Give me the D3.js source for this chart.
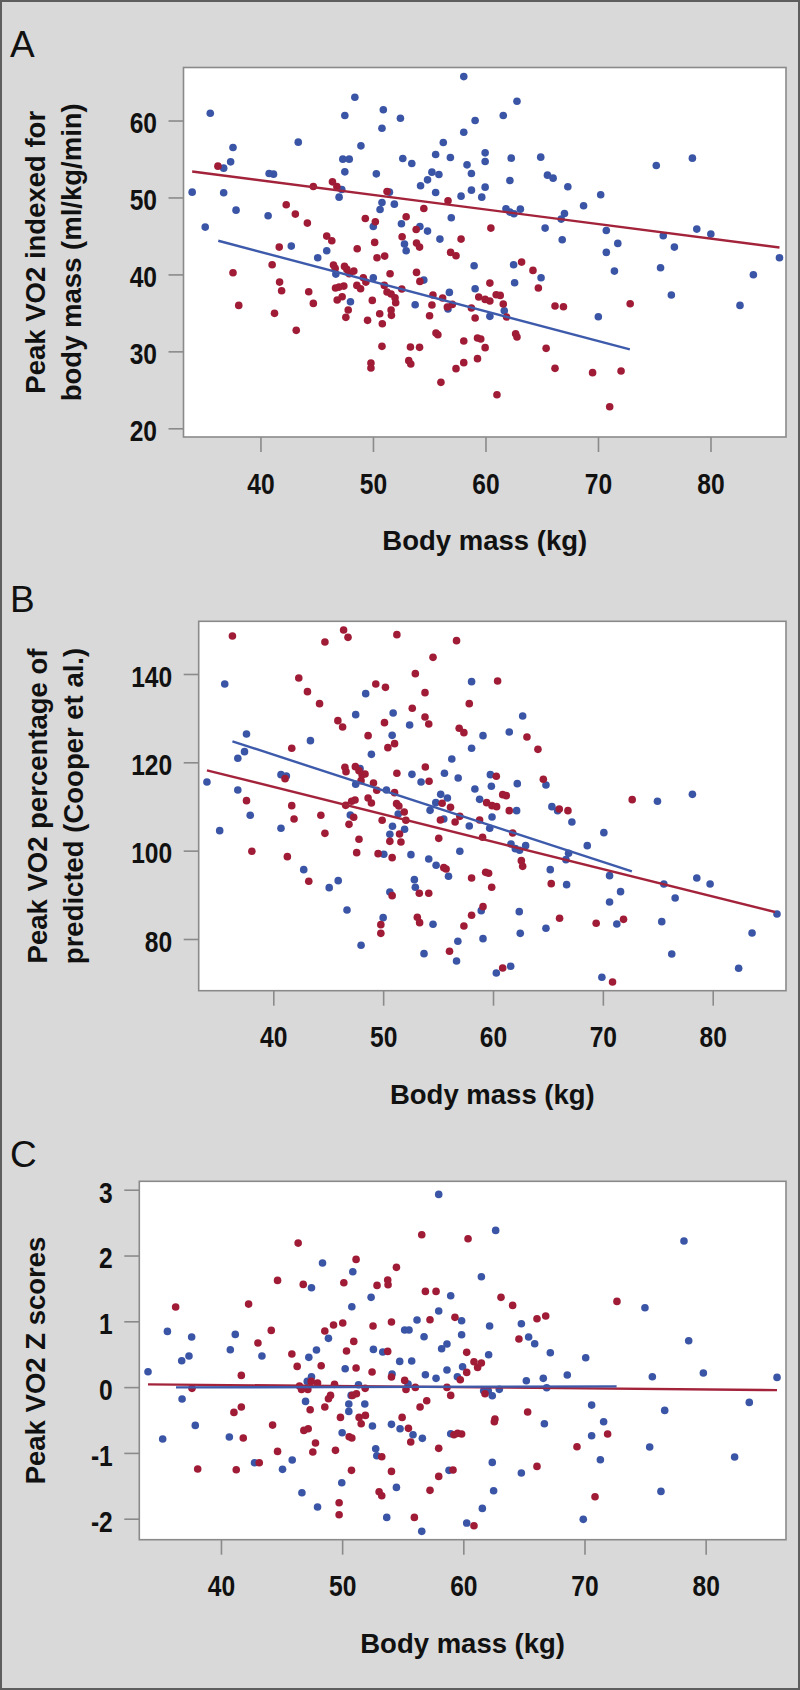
<!DOCTYPE html>
<html><head><meta charset="utf-8">
<script src="https://cdn.jsdelivr.net/npm/d3@7"></script>
<style>body{margin:0;background:#d9d9d9;} svg{display:block;}</style>
</head><body>
<svg id="fig" width="800" height="1690"></svg>
<script>
// ---------- DATA ----------
const xTicks = [40, 50, 60, 70, 80];
const yTicksA = [20, 30, 40, 50, 60];
const yTicksB = [80, 100, 120, 140];
const yTicksC = [-2, -1, 0, 1, 2, 3];
const panelLetters = ["A", "B", "C"];
const xTitle = "Body mass (kg)";
const yTitleA = ["Peak VO2 indexed for", "body mass (ml/kg/min)"];
const yTitleB = ["Peak VO2 percentage of", "predicted (Cooper et al.)"];
const yTitleC = ["Peak VO2 Z scores"];

// Panel A: [body mass, peak VO2 indexed]
const blueA = [[33.93,50.69],[35.54,60.95],[35.09,46.15],[36.73,53.81],[37.35,54.63],[37.56,56.49],[36.73,50.61],[37.83,48.35],[40.77,53.12],[41.16,53.03],[40.68,47.62],[43.36,57.19],[42.74,43.68],[45.09,42.16],[45.89,43.07],[47.5,60.65],[48.39,63.03],[47.32,54.98],[47.89,54.98],[47.5,53.33],[47.23,51.04],[46.99,50.04],[48.93,56.71],[50.92,61.39],[50.8,59.0],[50.3,53.07],[51.46,50.69],[50.8,49.35],[50.63,48.44],[51.9,49.13],[50.03,46.23],[46.7,40.04],[48.0,36.45],[50.03,39.57],[52.44,60.3],[52.65,55.06],[53.45,54.42],[52.53,46.58],[52.8,43.94],[52.95,43.07],[54.17,46.23],[54.85,45.63],[54.23,51.52],[54.85,52.29],[55.24,53.29],[55.86,52.99],[55.57,55.58],[56.25,57.14],[56.88,55.19],[55.57,50.65],[55.95,44.59],[56.96,47.36],[54.52,39.26],[53.75,36.06],[56.79,37.66],[56.67,35.5],[58.07,65.71],[58.07,58.48],[59.08,60.0],[58.36,54.24],[58.75,53.12],[58.75,50.95],[57.83,50.17],[59.67,50.04],[58.99,41.13],[59.08,38.14],[62.8,62.51],[61.58,60.65],[59.97,55.8],[59.97,54.68],[59.97,51.34],[62.29,55.11],[64.91,55.24],[65.51,52.9],[66.01,52.51],[67.32,51.39],[62.17,52.21],[61.82,48.53],[62.17,48.1],[62.53,47.88],[63.1,48.48],[65.3,46.02],[67.02,47.92],[66.73,47.19],[66.82,44.5],[68.72,48.92],[70.24,50.35],[70.74,45.71],[70.74,42.86],[71.76,44.03],[71.46,40.43],[70.03,34.5],[75.18,54.16],[78.39,55.11],[75.8,45.02],[76.79,43.55],[78.78,45.89],[80.03,45.24],[75.56,40.87],[76.52,37.32],[82.62,35.97],[83.81,39.96],[86.13,42.16],[62.5,41.26],[62.59,38.92],[64.94,39.57],[61.67,35.28],[60.39,34.55]];
const redA = [[36.22,54.07],[44.7,51.43],[46.4,52.03],[46.79,51.43],[42.29,49.05],[43.1,47.84],[44.17,46.67],[41.67,43.55],[41.04,41.26],[37.56,40.22],[38.07,35.97],[41.7,39.0],[41.88,37.88],[41.25,34.94],[43.18,32.73],[44.29,37.75],[44.7,36.23],[45.89,44.98],[46.34,44.37],[46.49,41.21],[46.64,40.78],[46.67,38.23],[46.99,38.35],[47.41,38.48],[46.82,36.67],[47.26,37.1],[47.8,35.37],[47.59,34.42],[47.47,41.04],[47.68,40.65],[47.89,40.09],[48.3,40.43],[48.6,43.33],[48.57,38.57],[48.9,38.14],[49.14,39.57],[49.37,39.0],[49.32,47.27],[50.21,46.84],[50.15,44.16],[50.36,42.16],[51.04,42.38],[51.25,50.78],[49.94,36.62],[49.52,34.03],[50.6,34.89],[50.83,33.59],[51.61,35.37],[51.64,34.68],[51.52,40.09],[51.01,38.57],[51.25,37.71],[51.61,37.45],[51.96,36.97],[52.02,36.32],[52.56,38.1],[52.95,47.49],[52.59,44.89],[53.84,45.84],[53.87,44.07],[54.14,43.55],[54.52,48.57],[53.87,40.26],[54.17,39.09],[55.33,37.32],[55.24,36.02],[55.03,34.63],[56.19,36.93],[56.61,35.76],[57.05,36.1],[55.6,32.38],[55.77,32.16],[50.8,30.65],[53.33,30.56],[54.14,30.52],[49.82,28.48],[49.82,27.84],[53.18,28.79],[53.36,28.35],[56.04,25.97],[57.38,27.75],[58.07,28.53],[59.29,29.05],[58.07,31.34],[59.29,31.73],[59.58,31.6],[58.75,35.63],[59.08,34.33],[59.4,37.06],[56.67,49.57],[57.83,44.59],[56.9,42.86],[57.38,42.42],[60.48,46.02],[63.21,41.6],[64.22,40.52],[64.7,38.23],[60.39,38.87],[59.97,36.75],[60.39,36.54],[60.95,37.36],[61.31,37.27],[61.58,36.15],[61.88,34.46],[62.68,32.29],[62.8,31.86],[59.97,30.48],[66.18,35.89],[66.93,35.8],[65.39,30.39],[66.18,27.79],[69.52,27.23],[72.05,27.45],[71.04,22.81],[61.02,24.37],[72.86,36.19]];
const fitRedA = [[33.93,53.38],[86.13,43.5]];
const fitBlueA = [[36.25,44.37],[72.83,30.26]];

// Panel B: [body mass, peak VO2 % predicted]
const blueB = [[33.96,115.55],[35.58,137.74],[35.12,104.53],[37.56,126.42],[37.38,122.42],[36.77,120.91],[36.77,113.74],[37.9,108.0],[40.7,117.21],[41.19,116.91],[40.7,105.06],[43.38,124.91],[42.77,95.7],[45.09,91.62],[45.91,93.21],[46.71,86.57],[47.5,130.79],[48.41,135.55],[48.93,121.81],[47.9,118.57],[47.5,115.02],[47.01,108.08],[47.99,78.57],[50.91,131.17],[50.82,126.11],[50.3,113.74],[51.37,108.3],[50.85,105.51],[50.61,103.7],[51.95,104.83],[50.06,99.17],[50.61,90.64],[50.0,84.83],[52.41,128.45],[52.62,117.28],[53.45,115.55],[52.53,99.09],[52.84,93.43],[52.93,91.7],[54.54,83.32],[53.72,76.68],[54.15,98.11],[54.82,96.68],[54.27,109.13],[54.79,110.87],[55.24,112.75],[55.85,111.92],[55.58,117.51],[56.25,120.75],[56.83,116.45],[55.52,107.17],[55.95,94.19],[56.98,99.85],[56.8,79.47],[56.68,75.02],[58.05,138.26],[58.05,123.17],[59.09,126.04],[58.35,113.96],[58.78,111.62],[57.84,105.58],[59.7,105.06],[58.93,86.42],[59.09,80.08],[62.7,130.49],[61.48,126.87],[59.76,117.21],[59.85,114.57],[62.21,115.17],[64.82,114.87],[62.15,109.06],[59.91,107.62],[65.36,109.96],[65.88,109.06],[67.18,106.49],[61.64,101.51],[62.03,100.45],[62.42,100.08],[62.97,101.13],[66.88,99.4],[66.64,97.96],[68.58,101.13],[70.09,104.08],[65.21,95.7],[66.7,92.3],[70.61,94.34],[71.61,90.72],[70.61,88.38],[71.27,83.4],[62.39,86.19],[62.48,81.28],[64.82,82.42],[61.61,73.81],[60.3,72.3],[69.91,71.32],[74.97,111.17],[78.15,112.75],[75.55,92.45],[78.55,93.81],[79.76,92.45],[76.58,89.28],[75.36,83.92],[76.27,76.6],[82.36,73.36],[83.58,81.36],[85.85,85.66]];
const redB = [[36.28,148.6],[42.32,139.09],[43.11,136.0],[44.21,133.28],[44.7,147.25],[46.4,149.96],[46.8,148.3],[45.88,129.43],[46.31,128.0],[41.68,123.17],[37.56,111.32],[41.07,116.3],[41.68,110.19],[41.89,107.17],[38.05,99.85],[41.28,98.64],[43.23,93.06],[44.33,108.0],[44.7,103.92],[46.52,118.87],[46.62,117.89],[47.47,119.02],[47.8,118.11],[48.08,117.21],[48.35,117.36],[47.99,115.85],[46.59,110.26],[47.13,111.17],[47.44,111.47],[47.32,107.55],[46.89,105.96],[47.8,102.57],[47.59,99.55],[48.63,126.04],[49.33,137.74],[50.21,136.98],[51.25,148.91],[50.12,128.98],[50.43,123.32],[51.04,124.23],[49.12,115.32],[49.42,113.66],[48.63,111.92],[48.93,110.79],[51.04,113.13],[51.25,117.51],[51.22,110.64],[51.43,110.11],[51.92,108.75],[52.07,106.87],[49.91,106.87],[51.49,103.77],[51.62,101.96],[50.61,102.11],[49.54,99.32],[50.82,98.42],[50.82,89.81],[49.79,83.25],[49.79,81.28],[52.93,140.08],[54.54,143.77],[53.81,135.77],[52.65,132.23],[53.81,130.26],[54.15,128.68],[53.84,118.94],[54.18,115.7],[56.68,147.55],[57.84,133.28],[56.92,127.7],[57.35,126.72],[55.37,110.72],[56.13,109.81],[56.98,107.77],[56.55,106.49],[55.21,106.94],[55.06,102.79],[58.78,106.94],[59.05,103.02],[59.42,110.87],[55.52,96.15],[55.73,95.85],[53.29,90.34],[54.15,90.34],[53.11,84.91],[53.32,83.7],[57.35,82.94],[58.05,85.36],[59.09,87.32],[58.05,93.81],[59.33,95.09],[59.6,94.87],[59.88,91.7],[56.04,77.21],[60.42,138.42],[63.09,125.74],[64.09,122.94],[60.3,116.83],[64.58,116.15],[60.88,112.68],[61.21,112.45],[59.91,110.19],[60.33,109.96],[61.48,109.06],[66.03,109.43],[66.82,109.06],[72.67,111.55],[61.79,104.0],[62.58,97.74],[62.7,96.45],[65.3,92.53],[66.06,84.68],[69.39,83.55],[71.88,84.45],[60.88,73.43],[70.88,70.26]];
const fitBlueB = [[36.28,124.75],[72.64,95.32]];
const fitRedB = [[33.96,118.19],[85.67,86.11]];

// Panel C: [body mass, peak VO2 Z score]
const blueC = [[33.98,0.234],[35.58,0.847],[35.19,-0.789],[36.76,0.401],[37.36,0.472],[37.58,0.761],[36.79,-0.181],[37.88,-0.582],[40.77,0.568],[41.18,0.801],[40.69,-0.759],[43.38,0.472],[42.77,-1.149],[45.08,-1.25],[45.88,-1.108],[46.68,-1.605],[47.47,1.511],[48.38,1.886],[48.87,0.741],[47.88,0.563],[47.25,0.452],[47.47,0.158],[47.12,0.087],[46.98,-0.217],[47.97,-1.823],[50.88,1.754],[50.8,1.222],[50.25,0.28],[51.35,0.036],[50.74,-0.126],[50.55,-0.257],[50.55,-0.369],[51.87,-0.257],[50.0,-0.693],[49.97,-1.453],[52.39,1.364],[52.58,0.573],[53.35,0.533],[52.5,-0.592],[52.77,-0.936],[52.86,-1.043],[53.68,-1.98],[54.75,0.391],[54.12,0.199],[54.07,-0.566],[54.78,-0.632],[54.48,-1.524],[55.16,0.867],[55.52,0.867],[56.18,1.019],[55.74,0.396],[55.44,0.047],[55.85,-0.723],[56.62,-0.779],[56.57,-2.192],[57.97,2.929],[56.76,0.766],[56.87,0.188],[57.75,0.133],[57.97,1.156],[58.96,1.389],[58.21,0.584],[58.65,0.655],[58.65,0.259],[59.51,0.158],[58.96,-0.708],[58.82,-1.265],[62.67,2.382],[61.49,1.678],[59.86,1.009],[59.86,0.796],[62.17,0.928],[62.09,0.492],[59.94,0.31],[64.79,0.963],[65.39,0.761],[65.89,0.66],[67.18,0.523],[65.2,0.097],[66.6,0.133],[66.88,-0.009],[68.58,0.183],[70.1,0.447],[61.68,-0.055],[62.06,-0.055],[62.39,-0.131],[62.97,-0.034],[66.69,-0.556],[70.59,-0.273],[71.58,-0.526],[70.59,-0.739],[71.31,-1.103],[62.39,-1.144],[64.79,-1.306],[62.5,-1.574],[61.57,-1.843],[60.28,-2.066],[69.9,-2.01],[74.99,1.207],[78.21,2.22],[78.6,0.705],[75.6,0.158],[79.81,0.214],[85.89,0.148],[76.62,-0.354],[75.38,-0.911],[83.6,-0.232],[82.39,-1.063],[76.31,-1.585]];
const redC = [[36.26,1.217],[37.61,-0.019],[38.08,-1.245],[42.28,1.262],[41.68,0.178],[41.68,-0.303],[41.07,-0.384],[41.84,-0.774],[41.26,-1.255],[43.16,-1.149],[44.67,1.622],[43.05,0.67],[44.15,0.862],[44.26,-0.577],[44.67,-0.977],[46.37,2.189],[46.79,1.561],[45.85,0.503],[46.29,0.315],[46.48,0.016],[46.65,-0.035],[47.17,-0.035],[47.45,0.087],[47.97,0.062],[47.36,-0.343],[47.2,-0.632],[46.84,-0.658],[47.8,-0.85],[47.58,-0.987],[48.57,0.852],[48.27,0.325],[49.29,0.943],[50.05,0.974],[50.36,0.548],[50.96,0.695],[51.15,0.29],[51.15,1.941],[50.14,1.587],[49.37,0.042],[49.04,-0.126],[48.87,-0.176],[48.57,-0.303],[49.86,-0.46],[49.45,-0.961],[50.58,-0.754],[50.8,-0.774],[50.77,-1.265],[49.75,-1.757],[49.75,-1.939],[50.85,-0.126],[51.18,-0.1],[51.9,-0.019],[51.4,-0.46],[51.92,-0.43],[51.57,-0.556],[52.47,0.229],[52.55,0.928],[52.88,1.546],[53.76,1.627],[53.79,1.556],[54.48,1.82],[54.07,0.989],[53.76,0.543],[54.07,0.153],[55.16,0.102],[55.27,-0.035],[56.04,-0.004],[54.95,-0.46],[55.47,-0.627],[55.66,-0.835],[53.27,-1.058],[53.05,-1.59],[53.27,-1.65],[54.07,-1.281],[55.96,-1.98],[56.57,2.316],[56.87,1.455],[57.75,1.455],[57.25,1.024],[56.98,-0.207],[56.43,-0.303],[57.97,-0.931],[57.97,-1.357],[57.25,-1.569],[59.31,1.06],[58.65,-0.004],[58.96,-0.126],[59.75,0.112],[59.23,-0.723],[59.53,-0.703],[59.86,-0.713],[59.15,-1.26],[60.39,2.255],[63.11,1.364],[64.07,1.242],[66.08,1.039],[66.8,1.08],[64.59,0.731],[72.68,1.303],[60.28,0.528],[60.88,0.386],[61.49,0.366],[61.18,0.3],[60.28,0.224],[61.79,-0.1],[65.31,-0.379],[62.61,-0.485],[62.56,-0.526],[71.91,-0.713],[69.38,-0.906],[66.08,-1.205],[70.87,-1.666],[60.88,-2.106]];
const fitRedC = [[33.98,0.042],[85.89,-0.045]];
const fitBlueC = [[36.29,-0.004],[72.65,0.011]];

// ---------- STYLE / LAYOUT ----------
const BLUE = "#3b55a6", RED = "#a01c36";
const BLUE_LINE = "#3d5aab", RED_LINE = "#a3233b";
const FRAME = "#8a8a8a";
const BOLD_FONT = "'Liberation Sans', Arial, Helvetica, sans-serif";
const NARROW_FONT = "'Liberation Sans Narrow', 'Arial Narrow', 'Liberation Sans', Arial, sans-serif";

const panels = [
  {letter: panelLetters[0], letterY: 57, box: {l:183.5, r:786, t:67.5, b:437},
   xDom: [33.16, 86.71], yDom: [18.87, 66.89], yTicks: yTicksA,
   title: yTitleA, titleX: [45, 81], blue: blueA, red: redA,
   fits: [{d: fitRedA, c: RED_LINE}, {d: fitBlueA, c: BLUE_LINE}]},
  {letter: panelLetters[1], letterY: 611.5, box: {l:198.7, r:786, t:621.3, b:990.7},
   xDom: [33.21, 86.67], yDom: [68.29, 151.93], yTicks: yTicksB,
   title: yTitleB, titleX: [47, 83], blue: blueB, red: redB,
   fits: [{d: fitRedB, c: RED_LINE}, {d: fitBlueB, c: BLUE_LINE}]},
  {letter: panelLetters[2], letterY: 1166.5, box: {l:139.3, r:786, t:1181.3, b:1539.7},
   xDom: [33.26, 86.63], yDom: [-2.319, 3.128], yTicks: yTicksC,
   title: yTitleC, titleX: [45], blue: blueC, red: redC,
   fits: [{d: fitRedC, c: RED_LINE}, {d: fitBlueC, c: BLUE_LINE}]}
];

const svg = d3.select("#fig");
svg.append("rect").attr("x",0).attr("y",0).attr("width",800).attr("height",1690).attr("fill","#d9d9d9");
svg.append("rect").attr("x",1).attr("y",1).attr("width",798).attr("height",1688)
   .attr("fill","none").attr("stroke","#5e5e5e").attr("stroke-width",2);

// narrow-font check: compress if the narrow face is not available
function narrowFactor() {
  const t = svg.append("text").attr("font-family", NARROW_FONT).attr("font-weight","bold")
    .attr("font-size", 30).text("00");
  const w = t.node().getComputedTextLength();
  t.remove();
  const target = 0.456 * 2 * 30;
  return w > target * 1.06 ? target / w : 1;
}
const k = narrowFactor();
const fmt = d => String(d);   // plain hyphen for negatives, as in the original

panels.forEach(p => {
  const g = svg.append("g");
  const x = d3.scaleLinear().domain(p.xDom).range([p.box.l, p.box.r]);
  const y = d3.scaleLinear().domain(p.yDom).range([p.box.b, p.box.t]);

  g.append("rect").attr("x", p.box.l).attr("y", p.box.t)
   .attr("width", p.box.r - p.box.l).attr("height", p.box.b - p.box.t)
   .attr("fill", "#fff").attr("stroke", FRAME).attr("stroke-width", 1.6);

  // axes
  const ax = g.append("g").attr("transform", `translate(0,${p.box.b})`)
    .call(d3.axisBottom(x).tickValues(xTicks).tickSize(15).tickFormat(fmt));
  const ay = g.append("g").attr("transform", `translate(${p.box.l},0)`)
    .call(d3.axisLeft(y).tickValues(p.yTicks).tickSize(15).tickFormat(fmt));
  [ax, ay].forEach(a => {
    a.select(".domain").remove();
    a.selectAll(".tick line").attr("stroke", FRAME).attr("stroke-width", 1.6);
    a.selectAll(".tick text").attr("fill", "#111").attr("font-family", NARROW_FONT)
      .attr("font-weight", "bold").attr("font-size", 30);
  });
  ax.selectAll(".tick text").attr("y", 0).attr("dy", 0)
    .attr("transform", `translate(0,56.5) scale(${k},1)`);
  ay.selectAll(".tick text").attr("x", 0).attr("dy", 0).attr("text-anchor", "end")
    .attr("transform", `translate(-26.5,12.3) scale(${k},1)`);

  // points
  g.append("g").selectAll("circle").data(p.blue).join("circle")
    .attr("cx", d => x(d[0])).attr("cy", d => y(d[1])).attr("r", 3.8).attr("fill", BLUE);
  g.append("g").selectAll("circle").data(p.red).join("circle")
    .attr("cx", d => x(d[0])).attr("cy", d => y(d[1])).attr("r", 3.8).attr("fill", RED);

  // fit lines
  const line = d3.line().x(d => x(d[0])).y(d => y(d[1]));
  p.fits.forEach(f => {
    g.append("path").attr("d", line(f.d)).attr("fill", "none")
      .attr("stroke", f.c).attr("stroke-width", 2.4);
  });

  // x title
  g.append("text").attr("x", (p.box.l + p.box.r) / 2).attr("y", p.box.b + 113)
    .attr("text-anchor", "middle").attr("font-family", BOLD_FONT).attr("font-weight", "bold")
    .attr("font-size", 27.5).attr("fill", "#111").text(xTitle);

  // y title
  const cy = (p.box.t + p.box.b) / 2;
  p.title.forEach((t, i) => {
    g.append("text").attr("transform", `translate(${p.titleX[i]},${cy}) rotate(-90)`)
      .attr("text-anchor", "middle").attr("font-family", BOLD_FONT).attr("font-weight", "bold")
      .attr("font-size", 27.5).attr("fill", "#111").text(t);
  });

  // panel letter
  g.append("text").attr("x", 10).attr("y", p.letterY).attr("font-family", BOLD_FONT)
    .attr("font-size", 37).attr("fill", "#111").text(p.letter);
});
</script>
</body></html>
